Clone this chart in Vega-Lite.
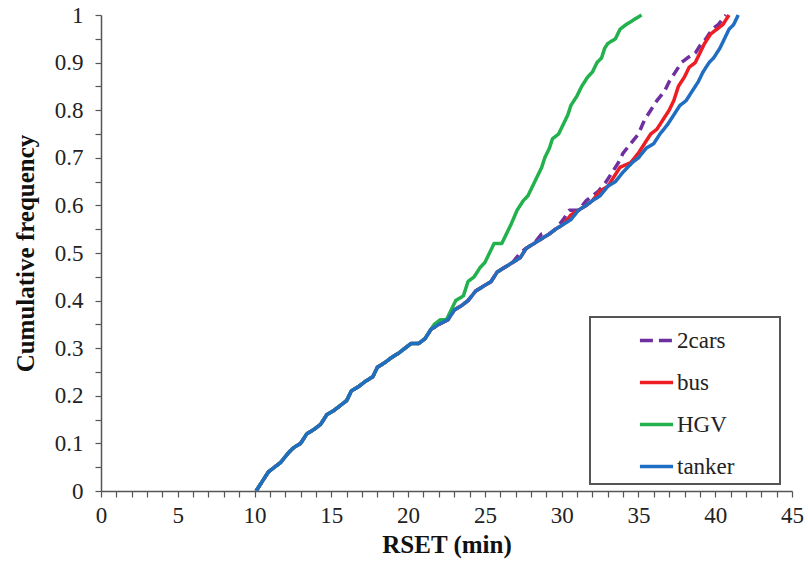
{
  "$schema": "https://vega.github.io/schema/vega-lite/v6.json",
  "width": 691,
  "height": 476,
  "autosize": "none",
  "padding": {"left": 101, "top": 15, "right": 16, "bottom": 75},
  "background": "white",
  "config": {
    "view": {"stroke": null},
    "font": "Liberation Serif, Times New Roman, DejaVu Serif, serif",
    "axis": {
      "labelFont": "Liberation Serif, Times New Roman, DejaVu Serif, serif",
      "titleFont": "Liberation Serif, Times New Roman, DejaVu Serif, serif",
      "labelFontSize": 23,
      "titleFontSize": 25,
      "titleFontWeight": "bold",
      "labelColor": "#222",
      "titleColor": "#111",
      "domainColor": "#555",
      "domainWidth": 1.5,
      "tickColor": "#555",
      "tickWidth": 1.2,
      "tickSize": 6,
      "grid": false
    },
    "legend": {
      "labelFont": "Liberation Serif, Times New Roman, DejaVu Serif, serif"
    }
  },
  "data": {
    "values": [
      {"s":"2cars","x":10.1,"y":0},{"s":"2cars","x":10.5,"y":0.02},{"s":"2cars","x":10.9,"y":0.04},{"s":"2cars","x":11.3,"y":0.05},{"s":"2cars","x":11.7,"y":0.06},{"s":"2cars","x":12.2,"y":0.08},{"s":"2cars","x":12.5,"y":0.09},{"s":"2cars","x":13.0,"y":0.10},{"s":"2cars","x":13.4,"y":0.12},{"s":"2cars","x":13.9,"y":0.13},{"s":"2cars","x":14.3,"y":0.14},{"s":"2cars","x":14.7,"y":0.16},{"s":"2cars","x":15.2,"y":0.17},{"s":"2cars","x":15.6,"y":0.18},{"s":"2cars","x":16.0,"y":0.19},{"s":"2cars","x":16.3,"y":0.21},{"s":"2cars","x":16.8,"y":0.22},{"s":"2cars","x":17.2,"y":0.23},{"s":"2cars","x":17.7,"y":0.24},{"s":"2cars","x":18.0,"y":0.26},{"s":"2cars","x":18.5,"y":0.27},{"s":"2cars","x":18.9,"y":0.28},{"s":"2cars","x":19.4,"y":0.29},{"s":"2cars","x":19.8,"y":0.30},{"s":"2cars","x":20.2,"y":0.31},{"s":"2cars","x":20.7,"y":0.31},{"s":"2cars","x":21.1,"y":0.32},{"s":"2cars","x":21.5,"y":0.34},{"s":"2cars","x":22.0,"y":0.35},{"s":"2cars","x":22.6,"y":0.36},{"s":"2cars","x":23.0,"y":0.38},{"s":"2cars","x":23.5,"y":0.39},{"s":"2cars","x":23.9,"y":0.40},{"s":"2cars","x":24.4,"y":0.42},{"s":"2cars","x":24.9,"y":0.43},{"s":"2cars","x":25.4,"y":0.44},{"s":"2cars","x":25.8,"y":0.46},{"s":"2cars","x":26.3,"y":0.47},{"s":"2cars","x":26.8,"y":0.48},{"s":"2cars","x":27.3,"y":0.50},{"s":"2cars","x":27.7,"y":0.51},{"s":"2cars","x":28.2,"y":0.52},{"s":"2cars","x":28.7,"y":0.54},{"s":"2cars","x":29.2,"y":0.54},{"s":"2cars","x":29.6,"y":0.55},{"s":"2cars","x":30.1,"y":0.57},{"s":"2cars","x":30.5,"y":0.59},{"s":"2cars","x":31.1,"y":0.59},{"s":"2cars","x":31.6,"y":0.61},{"s":"2cars","x":32.0,"y":0.62},{"s":"2cars","x":32.4,"y":0.63},{"s":"2cars","x":32.9,"y":0.65},{"s":"2cars","x":33.3,"y":0.67},{"s":"2cars","x":33.7,"y":0.69},{"s":"2cars","x":34.0,"y":0.71},{"s":"2cars","x":34.5,"y":0.73},{"s":"2cars","x":35.0,"y":0.75},{"s":"2cars","x":35.4,"y":0.78},{"s":"2cars","x":35.8,"y":0.80},{"s":"2cars","x":36.2,"y":0.82},{"s":"2cars","x":36.7,"y":0.84},{"s":"2cars","x":37.0,"y":0.86},{"s":"2cars","x":37.4,"y":0.88},{"s":"2cars","x":37.8,"y":0.90},{"s":"2cars","x":38.2,"y":0.91},{"s":"2cars","x":38.7,"y":0.92},{"s":"2cars","x":39.1,"y":0.94},{"s":"2cars","x":39.4,"y":0.95},{"s":"2cars","x":39.8,"y":0.97},{"s":"2cars","x":40.2,"y":0.98},{"s":"2cars","x":40.7,"y":1.0},

      {"s":"bus","x":10.1,"y":0},{"s":"bus","x":10.5,"y":0.02},{"s":"bus","x":10.9,"y":0.04},{"s":"bus","x":11.3,"y":0.05},{"s":"bus","x":11.7,"y":0.06},{"s":"bus","x":12.2,"y":0.08},{"s":"bus","x":12.5,"y":0.09},{"s":"bus","x":13.0,"y":0.10},{"s":"bus","x":13.4,"y":0.12},{"s":"bus","x":13.9,"y":0.13},{"s":"bus","x":14.3,"y":0.14},{"s":"bus","x":14.7,"y":0.16},{"s":"bus","x":15.2,"y":0.17},{"s":"bus","x":15.6,"y":0.18},{"s":"bus","x":16.0,"y":0.19},{"s":"bus","x":16.3,"y":0.21},{"s":"bus","x":16.8,"y":0.22},{"s":"bus","x":17.2,"y":0.23},{"s":"bus","x":17.7,"y":0.24},{"s":"bus","x":18.0,"y":0.26},{"s":"bus","x":18.5,"y":0.27},{"s":"bus","x":18.9,"y":0.28},{"s":"bus","x":19.4,"y":0.29},{"s":"bus","x":19.8,"y":0.30},{"s":"bus","x":20.2,"y":0.31},{"s":"bus","x":20.7,"y":0.31},{"s":"bus","x":21.1,"y":0.32},{"s":"bus","x":21.5,"y":0.34},{"s":"bus","x":22.0,"y":0.35},{"s":"bus","x":22.6,"y":0.36},{"s":"bus","x":23.0,"y":0.38},{"s":"bus","x":23.5,"y":0.39},{"s":"bus","x":23.9,"y":0.40},{"s":"bus","x":24.4,"y":0.42},{"s":"bus","x":24.9,"y":0.43},{"s":"bus","x":25.4,"y":0.44},{"s":"bus","x":25.8,"y":0.46},{"s":"bus","x":26.3,"y":0.47},{"s":"bus","x":26.8,"y":0.48},{"s":"bus","x":27.3,"y":0.49},{"s":"bus","x":27.7,"y":0.51},{"s":"bus","x":28.2,"y":0.52},{"s":"bus","x":28.7,"y":0.53},{"s":"bus","x":29.2,"y":0.54},{"s":"bus","x":29.6,"y":0.55},{"s":"bus","x":30.1,"y":0.56},{"s":"bus","x":30.6,"y":0.58},{"s":"bus","x":31.1,"y":0.59},{"s":"bus","x":31.6,"y":0.60},{"s":"bus","x":32.0,"y":0.61},{"s":"bus","x":32.5,"y":0.63},{"s":"bus","x":33.0,"y":0.64},{"s":"bus","x":33.4,"y":0.66},{"s":"bus","x":33.8,"y":0.68},{"s":"bus","x":34.5,"y":0.69},{"s":"bus","x":35.0,"y":0.71},{"s":"bus","x":35.4,"y":0.73},{"s":"bus","x":35.8,"y":0.75},{"s":"bus","x":36.2,"y":0.76},{"s":"bus","x":36.6,"y":0.78},{"s":"bus","x":37.0,"y":0.80},{"s":"bus","x":37.3,"y":0.82},{"s":"bus","x":37.6,"y":0.85},{"s":"bus","x":38.0,"y":0.87},{"s":"bus","x":38.3,"y":0.89},{"s":"bus","x":38.7,"y":0.90},{"s":"bus","x":39.0,"y":0.92},{"s":"bus","x":39.3,"y":0.94},{"s":"bus","x":39.7,"y":0.96},{"s":"bus","x":40.1,"y":0.97},{"s":"bus","x":40.5,"y":0.98},{"s":"bus","x":40.9,"y":1.0},

      {"s":"HGV","x":10.1,"y":0},{"s":"HGV","x":10.5,"y":0.02},{"s":"HGV","x":10.9,"y":0.04},{"s":"HGV","x":11.3,"y":0.05},{"s":"HGV","x":11.7,"y":0.06},{"s":"HGV","x":12.2,"y":0.08},{"s":"HGV","x":12.5,"y":0.09},{"s":"HGV","x":13.0,"y":0.10},{"s":"HGV","x":13.4,"y":0.12},{"s":"HGV","x":13.9,"y":0.13},{"s":"HGV","x":14.3,"y":0.14},{"s":"HGV","x":14.7,"y":0.16},{"s":"HGV","x":15.2,"y":0.17},{"s":"HGV","x":15.6,"y":0.18},{"s":"HGV","x":16.0,"y":0.19},{"s":"HGV","x":16.3,"y":0.21},{"s":"HGV","x":16.8,"y":0.22},{"s":"HGV","x":17.2,"y":0.23},{"s":"HGV","x":17.7,"y":0.24},{"s":"HGV","x":18.0,"y":0.26},{"s":"HGV","x":18.5,"y":0.27},{"s":"HGV","x":18.9,"y":0.28},{"s":"HGV","x":19.4,"y":0.29},{"s":"HGV","x":19.8,"y":0.30},{"s":"HGV","x":20.2,"y":0.31},{"s":"HGV","x":20.7,"y":0.31},{"s":"HGV","x":21.1,"y":0.32},{"s":"HGV","x":21.5,"y":0.34},{"s":"HGV","x":21.7,"y":0.35},{"s":"HGV","x":22.1,"y":0.36},{"s":"HGV","x":22.5,"y":0.36},{"s":"HGV","x":22.8,"y":0.38},{"s":"HGV","x":23.1,"y":0.40},{"s":"HGV","x":23.6,"y":0.41},{"s":"HGV","x":23.9,"y":0.44},{"s":"HGV","x":24.3,"y":0.45},{"s":"HGV","x":24.7,"y":0.47},{"s":"HGV","x":25.0,"y":0.48},{"s":"HGV","x":25.3,"y":0.50},{"s":"HGV","x":25.6,"y":0.52},{"s":"HGV","x":26.1,"y":0.52},{"s":"HGV","x":26.4,"y":0.54},{"s":"HGV","x":26.7,"y":0.56},{"s":"HGV","x":27.1,"y":0.59},{"s":"HGV","x":27.5,"y":0.61},{"s":"HGV","x":27.8,"y":0.62},{"s":"HGV","x":28.1,"y":0.64},{"s":"HGV","x":28.4,"y":0.66},{"s":"HGV","x":28.7,"y":0.68},{"s":"HGV","x":28.9,"y":0.70},{"s":"HGV","x":29.2,"y":0.72},{"s":"HGV","x":29.4,"y":0.74},{"s":"HGV","x":29.8,"y":0.75},{"s":"HGV","x":30.1,"y":0.77},{"s":"HGV","x":30.4,"y":0.79},{"s":"HGV","x":30.6,"y":0.81},{"s":"HGV","x":31.0,"y":0.83},{"s":"HGV","x":31.3,"y":0.85},{"s":"HGV","x":31.7,"y":0.87},{"s":"HGV","x":32.0,"y":0.88},{"s":"HGV","x":32.3,"y":0.90},{"s":"HGV","x":32.6,"y":0.91},{"s":"HGV","x":32.8,"y":0.93},{"s":"HGV","x":33.0,"y":0.94},{"s":"HGV","x":33.5,"y":0.95},{"s":"HGV","x":33.8,"y":0.97},{"s":"HGV","x":34.2,"y":0.98},{"s":"HGV","x":34.7,"y":0.99},{"s":"HGV","x":35.2,"y":1.0},

      {"s":"tanker","x":10.1,"y":0},{"s":"tanker","x":10.5,"y":0.02},{"s":"tanker","x":10.9,"y":0.04},{"s":"tanker","x":11.3,"y":0.05},{"s":"tanker","x":11.7,"y":0.06},{"s":"tanker","x":12.2,"y":0.08},{"s":"tanker","x":12.5,"y":0.09},{"s":"tanker","x":13.0,"y":0.10},{"s":"tanker","x":13.4,"y":0.12},{"s":"tanker","x":13.9,"y":0.13},{"s":"tanker","x":14.3,"y":0.14},{"s":"tanker","x":14.7,"y":0.16},{"s":"tanker","x":15.2,"y":0.17},{"s":"tanker","x":15.6,"y":0.18},{"s":"tanker","x":16.0,"y":0.19},{"s":"tanker","x":16.3,"y":0.21},{"s":"tanker","x":16.8,"y":0.22},{"s":"tanker","x":17.2,"y":0.23},{"s":"tanker","x":17.7,"y":0.24},{"s":"tanker","x":18.0,"y":0.26},{"s":"tanker","x":18.5,"y":0.27},{"s":"tanker","x":18.9,"y":0.28},{"s":"tanker","x":19.4,"y":0.29},{"s":"tanker","x":19.8,"y":0.30},{"s":"tanker","x":20.2,"y":0.31},{"s":"tanker","x":20.7,"y":0.31},{"s":"tanker","x":21.1,"y":0.32},{"s":"tanker","x":21.5,"y":0.34},{"s":"tanker","x":22.0,"y":0.35},{"s":"tanker","x":22.6,"y":0.36},{"s":"tanker","x":23.0,"y":0.38},{"s":"tanker","x":23.5,"y":0.39},{"s":"tanker","x":23.9,"y":0.40},{"s":"tanker","x":24.4,"y":0.42},{"s":"tanker","x":24.9,"y":0.43},{"s":"tanker","x":25.4,"y":0.44},{"s":"tanker","x":25.8,"y":0.46},{"s":"tanker","x":26.3,"y":0.47},{"s":"tanker","x":26.8,"y":0.48},{"s":"tanker","x":27.3,"y":0.49},{"s":"tanker","x":27.7,"y":0.51},{"s":"tanker","x":28.2,"y":0.52},{"s":"tanker","x":28.7,"y":0.53},{"s":"tanker","x":29.2,"y":0.54},{"s":"tanker","x":29.6,"y":0.55},{"s":"tanker","x":30.1,"y":0.56},{"s":"tanker","x":30.6,"y":0.57},{"s":"tanker","x":31.1,"y":0.59},{"s":"tanker","x":31.6,"y":0.60},{"s":"tanker","x":32.0,"y":0.61},{"s":"tanker","x":32.5,"y":0.62},{"s":"tanker","x":33.0,"y":0.64},{"s":"tanker","x":33.5,"y":0.65},{"s":"tanker","x":34.0,"y":0.67},{"s":"tanker","x":34.6,"y":0.69},{"s":"tanker","x":35.0,"y":0.70},{"s":"tanker","x":35.5,"y":0.72},{"s":"tanker","x":36.0,"y":0.73},{"s":"tanker","x":36.4,"y":0.75},{"s":"tanker","x":36.9,"y":0.77},{"s":"tanker","x":37.3,"y":0.79},{"s":"tanker","x":37.7,"y":0.81},{"s":"tanker","x":38.1,"y":0.82},{"s":"tanker","x":38.5,"y":0.84},{"s":"tanker","x":38.9,"y":0.86},{"s":"tanker","x":39.2,"y":0.88},{"s":"tanker","x":39.6,"y":0.90},{"s":"tanker","x":39.9,"y":0.91},{"s":"tanker","x":40.3,"y":0.93},{"s":"tanker","x":40.6,"y":0.95},{"s":"tanker","x":40.9,"y":0.97},{"s":"tanker","x":41.2,"y":0.98},{"s":"tanker","x":41.5,"y":1.0}
    ]
  },
  "mark": {"type": "line", "strokeWidth": 3.5, "strokeCap": "butt", "strokeJoin": "round"},
  "encoding": {
    "x": {
      "field": "x",
      "type": "quantitative",
      "scale": {"domain": [0, 45], "nice": false, "zero": false},
      "axis": {
        "title": "RSET (min)",
        "values": [0,1,2,3,4,5,6,7,8,9,10,11,12,13,14,15,16,17,18,19,20,21,22,23,24,25,26,27,28,29,30,31,32,33,34,35,36,37,38,39,40,41,42,43,44,45],
        "labelExpr": "datum.value % 5 == 0 ? format(datum.value, 'd') : ''",
        "labelPadding": 7,
        "titlePadding": 5,
        "labelFlush": false,
        "labelOverlap": false
      }
    },
    "y": {
      "field": "y",
      "type": "quantitative",
      "scale": {"domain": [0, 1], "nice": false},
      "axis": {
        "title": "Cumulative frequency",
        "values": [0,0.05,0.1,0.15,0.2,0.25,0.3,0.35,0.4,0.45,0.5,0.55,0.6,0.65,0.7,0.75,0.8,0.85,0.9,0.95,1],
        "labelExpr": "round(datum.value*100) % 10 == 0 ? format(datum.value, '.1~f') : ''",
        "labelPadding": 12,
        "titlePadding": 16,
        "labelFlush": false,
        "labelOverlap": false
      }
    },
    "color": {
      "field": "s",
      "type": "nominal",
      "sort": null,
      "scale": {"domain": ["2cars", "bus", "HGV", "tanker"], "range": ["#6E2FA0", "#EE1D24", "#22B14C", "#1F6EC1"]},
      "legend": {
        "title": null,
        "orient": "none",
        "legendX": 489,
        "legendY": 302,
        "padding": 5,
        "strokeColor": "#555",
        "fillColor": "white",
        "symbolType": "stroke",
        "symbolSize": 1100,
        "symbolStrokeWidth": 3.5,
        "symbolOffset": 43,
        "labelOffset": 2,
        "labelFontSize": 23,
        "labelColor": "#222",
        "rowPadding": 11,
        "labelExpr": "datum.label + '       \u200b'",
        "encode": {
          "legend": {"update": {"strokeWidth": {"value": 2}}},
          "symbols": {
            "update": {
              "strokeDash": {"signal": "datum.value === '2cars' ? [13, 6] : [1, 0]"}
            }
          }
        }
      }
    },
    "strokeDash": {
      "condition": {"test": "datum.s === '2cars'", "value": [10, 6]},
      "value": [1, 0]
    }
  }
}
